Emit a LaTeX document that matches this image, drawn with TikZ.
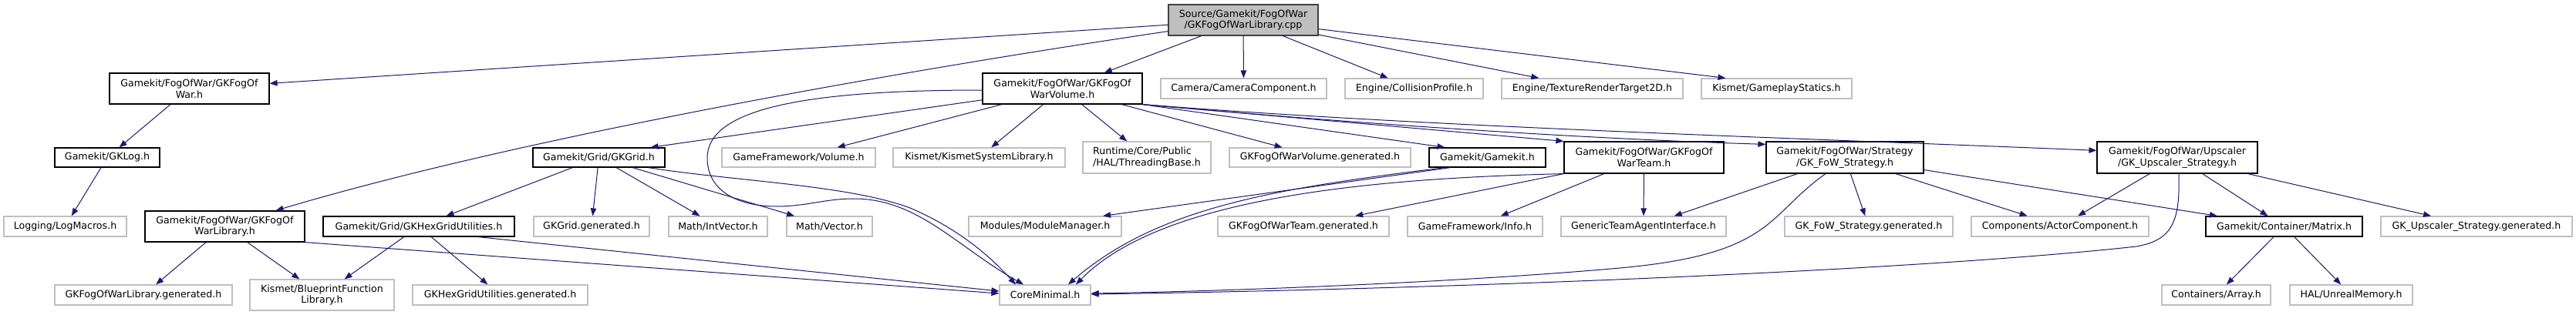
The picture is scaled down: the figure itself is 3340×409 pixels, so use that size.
\documentclass[tikz,border=0pt]{standalone}
\usepackage{fontspec}
\setmainfont{DejaVu Sans}
\usepackage{xcolor}
\usetikzlibrary{shapes,arrows.meta,positioning,calc}

\definecolor{edgeblue}{HTML}{191970}
\definecolor{extgray}{HTML}{BFBFBF}
\definecolor{rootgray}{HTML}{404040}

\begin{document}
\begin{tikzpicture}[x=1pt, y=1pt,
    every node/.append style={font=\fontsize{12.6}{14.7}\selectfont, inner sep=0pt},
    rootfile/.style={rectangle, draw=rootgray, fill=extgray, line width=1.2pt, align=center},
    docfile/.style={rectangle, draw=black, fill=white, line width=1.2pt, align=center},
    extfile/.style={rectangle, draw=extgray, fill=white, line width=1.2pt, align=center},
    dep/.style={draw=edgeblue, line width=1pt, -{Triangle[length=10pt, width=7.5pt]}}]
    \useasboundingbox (0,0) rectangle (3340,-409);

    % Root file
    \node[rootfile, minimum width=194, minimum height=40] (root) at (1612,-26) {Source/Gamekit/FogOfWar\\/GKFogOfWarLibrary.cpp};

    % Second row
    \node[docfile, minimum width=207, minimum height=40] (fow) at (245.5,-115) {Gamekit/FogOfWar/GKFogOf\\War.h};
    \node[docfile, minimum width=207, minimum height=40] (volume) at (1377.5,-115) {Gamekit/FogOfWar/GKFogOf\\WarVolume.h};
    \node[extfile, minimum width=215, minimum height=26] (camera) at (1612.5,-115) {Camera/CameraComponent.h};
    \node[extfile, minimum width=179, minimum height=26] (collision) at (1833.5,-115) {Engine/CollisionProfile.h};
    \node[extfile, minimum width=235, minimum height=26] (texture) at (2064.5,-115) {Engine/TextureRenderTarget2D.h};
    \node[extfile, minimum width=195, minimum height=26] (gameplay) at (2303.5,-115) {Kismet/GameplayStatics.h};

    % Third row
    \node[docfile, minimum width=136, minimum height=25] (gklog) at (139,-204.5) {Gamekit/GKLog.h};
    \node[docfile, minimum width=171, minimum height=25] (gkgrid) at (776.5,-204.5) {Gamekit/Grid/GKGrid.h};
    \node[extfile, minimum width=199, minimum height=25] (gfvolume) at (1035.5,-204.5) {GameFramework/Volume.h};
    \node[extfile, minimum width=223, minimum height=25] (kismetsys) at (1269.5,-204.5) {Kismet/KismetSystemLibrary.h};
    \node[extfile, minimum width=166, minimum height=41, align=left] (threading) at (1487,-204.5) {Runtime/Core/Public\\/HAL/ThreadingBase.h};
    \node[extfile, minimum width=235, minimum height=25] (volgen) at (1711.5,-204.5) {GKFogOfWarVolume.generated.h};
    \node[docfile, minimum width=151, minimum height=25] (gamekit) at (1928.5,-204.5) {Gamekit/Gamekit.h};
    \node[docfile, minimum width=207, minimum height=41] (team) at (2131.5,-204.5) {Gamekit/FogOfWar/GKFogOf\\WarTeam.h};
    \node[docfile, minimum width=204, minimum height=41] (fowstrat) at (2392,-204.5) {Gamekit/FogOfWar/Strategy\\/GK\_FoW\_Strategy.h};
    \node[docfile, minimum width=208, minimum height=41] (upscaler) at (2823,-204.5) {Gamekit/FogOfWar/Upscaler\\/GK\_Upscaler\_Strategy.h};

    % Fourth row
    \node[extfile, minimum width=159, minimum height=26] (logmacros) at (84.5,-294) {Logging/LogMacros.h};
    \node[docfile, minimum width=207, minimum height=40] (fowlib) at (291.5,-294) {Gamekit/FogOfWar/GKFogOf\\WarLibrary.h};
    \node[docfile, minimum width=248, minimum height=26] (hexutil) at (543,-294) {Gamekit/Grid/GKHexGridUtilities.h};
    \node[extfile, minimum width=150, minimum height=26] (gridgen) at (767,-294) {GKGrid.generated.h};
    \node[extfile, minimum width=128, minimum height=26] (intvector) at (931,-294) {Math/IntVector.h};
    \node[extfile, minimum width=111, minimum height=26] (vector) at (1075.5,-294) {Math/Vector.h};
    \node[extfile, minimum width=198, minimum height=26] (modules) at (1355,-294) {Modules/ModuleManager.h};
    \node[extfile, minimum width=222, minimum height=26] (teamgen) at (1690,-294) {GKFogOfWarTeam.generated.h};
    \node[extfile, minimum width=175, minimum height=26] (info) at (1912.5,-294) {GameFramework/Info.h};
    \node[extfile, minimum width=214, minimum height=26] (generic) at (2131,-294) {GenericTeamAgentInterface.h};
    \node[extfile, minimum width=218, minimum height=26] (fowstratgen) at (2423,-294) {GK\_FoW\_Strategy.generated.h};
    \node[extfile, minimum width=230, minimum height=26] (actorcomp) at (2671,-294) {Components/ActorComponent.h};
    \node[docfile, minimum width=203, minimum height=26] (matrix) at (2961.5,-294) {Gamekit/Container/Matrix.h};
    \node[extfile, minimum width=248, minimum height=26] (upgen) at (3211,-294) {GK\_Upscaler\_Strategy.generated.h};

    % Bottom row
    \node[extfile, minimum width=230, minimum height=26] (fowlibgen) at (186,-383) {GKFogOfWarLibrary.generated.h};
    \node[extfile, minimum width=187, minimum height=40] (blueprint) at (417.5,-383) {Kismet/BlueprintFunction\\Library.h};
    \node[extfile, minimum width=227, minimum height=26] (hexgen) at (648.5,-383) {GKHexGridUtilities.generated.h};
    \node[extfile, minimum width=118, minimum height=26] (coreminimal) at (1355,-383) {CoreMinimal.h};
    \node[extfile, minimum width=141, minimum height=26] (array) at (2873.5,-383) {Containers/Array.h};
    \node[extfile, minimum width=159, minimum height=26] (unrealmem) at (3048.5,-383) {HAL/UnrealMemory.h};

    % Includes of the root file
    \draw[dep] (root) -- (fow);
    \draw[dep] ([yshift=6]root.south west) .. controls (1115,-100) and (657,-184) .. ([xshift=66]fowlib.north);
    \draw[dep] (root) -- (volume);
    \draw[dep] (root) -- (camera);
    \draw[dep] (root) -- (collision);
    \draw[dep] (root) -- (texture);
    \draw[dep] (root) -- ([xshift=-66]gameplay.north);

    % GKFogOfWar.h
    \draw[dep] (fow) -- (gklog);
    \draw[dep] (gklog) -- (logmacros);

    % GKFogOfWarVolume.h
    \draw[dep] (volume) -- ([xshift=67]gkgrid.north);
    \draw[dep] (volume) -- (gfvolume);
    \draw[dep] (volume) -- (kismetsys);
    \draw[dep] (volume) -- (threading);
    \draw[dep] (volume) -- (volgen);
    \draw[dep] (volume.south east) -- ([xshift=-55]gamekit.north);
    \draw[dep] (volume.south east) -- (team.north west);
    \draw[dep] (volume.south east) .. controls (1750,-160) and (2050,-180) .. ([yshift=-4]fowstrat.north west);
    \draw[dep] (volume.south east) .. controls (1850,-165) and (2350,-180) .. ([yshift=-12]upscaler.north west);
    \draw[dep] ([yshift=-2]volume.west) .. controls (1050,-117) and (917,-140) .. (917,-205)
        .. controls (917,-250) and (960,-268) .. (1007,-268)
        .. controls (1045,-268) and (1070,-258) .. (1107,-258)
        .. controls (1190,-258) and (1240,-320) .. ([xshift=-28]coreminimal.north);

    % GKGrid.h
    \draw[dep] (gkgrid) -- (hexutil);
    \draw[dep] (gkgrid) -- (gridgen);
    \draw[dep] (gkgrid) -- (intvector);
    \draw[dep] (gkgrid) -- (vector);
    \draw[dep] ([xshift=64]gkgrid.south) .. controls (950,-235) and (1100,-240) .. (1180,-270)
        .. controls (1250,-300) and (1290,-340) .. ([xshift=-38]coreminimal.north);

    % GKHexGridUtilities.h and GKFogOfWarLibrary.h
    \draw[dep] (hexutil) -- (blueprint);
    \draw[dep] (hexutil) -- (hexgen);
    \draw[dep] ([xshift=77]hexutil.south) -- ([yshift=5]coreminimal.west);
    \draw[dep] (fowlib) -- (fowlibgen);
    \draw[dep] (fowlib) -- (blueprint);
    \draw[dep] (fowlib.south east) -- ([yshift=2]coreminimal.west);

    % Gamekit.h
    \draw[dep] ([xshift=-48]gamekit.south) -- ([xshift=75]modules.north);
    \draw[dep] ([xshift=-55]gamekit.south) .. controls (1650,-245) and (1500,-270) .. ([xshift=30]coreminimal.north);

    % GKFogOfWarTeam.h
    \draw[dep] (team) -- (teamgen);
    \draw[dep] (team) -- (info);
    \draw[dep] (team) -- (generic);
    \draw[dep] (team.south west) .. controls (1750,-232) and (1500,-262) .. ([xshift=40]coreminimal.north);

    % GK_FoW_Strategy.h
    \draw[dep] (fowstrat) -- (generic);
    \draw[dep] (fowstrat) -- (fowstratgen);
    \draw[dep] (fowstrat) -- (actorcomp);
    \draw[dep] (fowstrat) -- (matrix);
    \draw[dep] ([xshift=-25]fowstrat.south) .. controls (2290,-280) and (2300,-330) .. (2100,-348)
        .. controls (1900,-366) and (1600,-378) .. ([yshift=2]coreminimal.east);

    % GK_Upscaler_Strategy.h
    \draw[dep] (upscaler) -- (actorcomp);
    \draw[dep] (upscaler) -- (matrix);
    \draw[dep] (upscaler) -- (upgen);
    \draw[dep] ([xshift=2]upscaler.south) .. controls (2827,-290) and (2815,-312) .. (2770,-320)
        .. controls (2500,-350) and (1900,-375) .. ([yshift=1]coreminimal.east);

    % Matrix.h
    \draw[dep] (matrix) -- (array);
    \draw[dep] (matrix) -- (unrealmem);
\end{tikzpicture}
\end{document}
